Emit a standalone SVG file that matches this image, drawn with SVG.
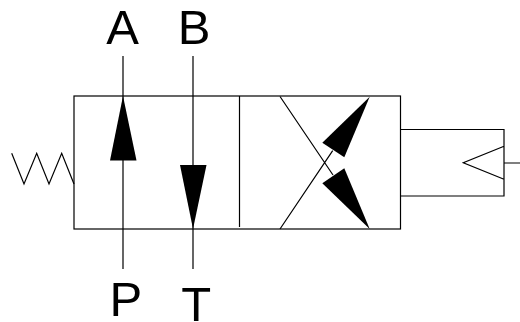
<svg xmlns="http://www.w3.org/2000/svg" width="520" height="322" viewBox="0 0 520 322">
<style>
.l{fill:none;stroke:#000;stroke-width:1.2}
.a{fill:#000;stroke:none}
text{font-family:"Liberation Sans",Arial,sans-serif;font-size:49px;fill:#000;text-anchor:middle}
</style>
<rect width="520" height="322" fill="#fff"/>
<g id="valve-body">
<rect class="l" x="74" y="96" width="326.5" height="133"/>
<path class="l" d="M239.5 96V227"/>
</g>
<g id="spring"><path class="l" d="M11.7 153.300L24 184L36.700 153.300L49 184L61.700 153.300L74 184"/></g>
<g id="solenoid">
<path class="l" d="M400.500 129.500H504V196H400.500M504 146.300L463.300 162.700L504 179.300M504 163H520"/>
</g>
<g id="connectors">
<path class="l" d="M123 56V269M193 56V269M280 96.500L333 175M280 229L332.700 150.700"/>
<path class="a" d="M123 96L136.500 160.500H110Z"/>
<path class="a" d="M193 229L180 165H206.500Z"/>
<path class="a" d="M369.700 96.700L322.300 142.700L344.300 157.300Z"/>
<path class="a" d="M369.700 229L322.300 183.300L344.300 168.300Z"/>
</g>
<g id="label-a"><text x="122.500" y="43.500">A</text></g>
<g id="label-b"><text x="194" y="43.500">B</text></g>
<g id="label-p"><text x="125.800" y="316">P</text></g>
<g id="label-t"><text x="196.200" y="321">T</text></g>
</svg>
